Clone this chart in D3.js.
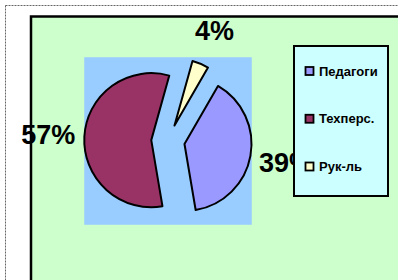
<!DOCTYPE html>
<html>
<head>
<meta charset="utf-8">
<script src="https://cdn.jsdelivr.net/npm/d3@7"></script>
<style>
  body { margin: 0; background: #fff; }
  svg { display: block; font-family: "Liberation Sans", Arial, sans-serif; }
</style>
</head>
<body>
<script>
const categories = ['Педагоги', 'Техперс.', 'Рук-ль'];
const values = [39, 57, 4];
const labels = ['39%', '57%', '4%'];
const palette = ['#9999FF', '#993366', '#FFFFCC'];

const W = 398, H = 280;
const cx = 168, cy = 141;
const radius = 67;
const explode = radius * 0.25;
const labelRadius = 120;
const firstAngle = 30 * Math.PI / 180;

const svg = d3.select('body').append('svg')
  .attr('width', W)
  .attr('height', H);

// outer dotted frame
svg.append('rect')
  .attr('x', 5.5).attr('y', 5.5)
  .attr('width', W + 20).attr('height', H + 20)
  .attr('fill', '#fff')
  .attr('stroke', '#666')
  .attr('stroke-width', 1)
  .attr('stroke-dasharray', '2,1');

// chart area
svg.append('rect')
  .attr('x', 31).attr('y', 16.5)
  .attr('width', W + 20).attr('height', H + 20)
  .attr('fill', '#CCFFCC')
  .attr('stroke', '#000')
  .attr('stroke-width', 2.5);

// plot area
const ext = radius + explode;
svg.append('rect')
  .attr('x', cx - ext).attr('y', cy - ext)
  .attr('width', ext * 2).attr('height', ext * 2)
  .attr('fill', '#99CCFF');

const color = d3.scaleOrdinal().domain(categories).range(palette);

const pie = d3.pie()
  .sort(null)
  .value(d => d.value)
  .startAngle(firstAngle)
  .endAngle(firstAngle + 2 * Math.PI);

const arcs = pie(categories.map((c, i) => ({cat: c, value: values[i], label: labels[i]})));
const arc = d3.arc().innerRadius(0).outerRadius(radius);
const mid = d => (d.startAngle + d.endAngle) / 2;

const g = svg.append('g').attr('transform', `translate(${cx},${cy})`);

g.selectAll('path.slice')
  .data(arcs)
  .join('path')
  .attr('class', 'slice')
  .attr('transform', d => `translate(${explode * Math.sin(mid(d))},${-explode * Math.cos(mid(d))})`)
  .attr('d', arc)
  .attr('fill', d => color(d.data.cat))
  .attr('stroke', '#000')
  .attr('stroke-width', 2)
  .attr('stroke-linejoin', 'round');

g.selectAll('text.pct')
  .data(arcs)
  .join('text')
  .attr('class', 'pct')
  .attr('x', d => labelRadius * Math.sin(mid(d)))
  .attr('y', d => -labelRadius * Math.cos(mid(d)))
  .attr('dy', '0.35em')
  .attr('text-anchor', 'middle')
  .attr('font-size', 27)
  .attr('font-weight', 'bold')
  .attr('fill', '#000')
  .text(d => d.data.label);

// legend
const lg = svg.append('g');
lg.append('rect')
  .attr('x', 294).attr('y', 46)
  .attr('width', 94).attr('height', 150)
  .attr('fill', '#CCFFFF')
  .attr('stroke', '#000')
  .attr('stroke-width', 2);

const ly = d3.scalePoint().domain(categories).range([71, 166.5]);

const item = lg.selectAll('g.item')
  .data(categories)
  .join('g')
  .attr('class', 'item')
  .attr('transform', d => `translate(0,${ly(d)})`);

item.append('rect')
  .attr('x', 305.5).attr('y', -4)
  .attr('width', 8).attr('height', 8)
  .attr('fill', d => color(d))
  .attr('stroke', '#000')
  .attr('stroke-width', 1.8);

item.append('text')
  .attr('x', 319)
  .attr('dy', '0.35em')
  .attr('font-size', 13)
  .attr('font-weight', 'bold')
  .attr('fill', '#000')
  .text(d => d);
</script>
</body>
</html>
